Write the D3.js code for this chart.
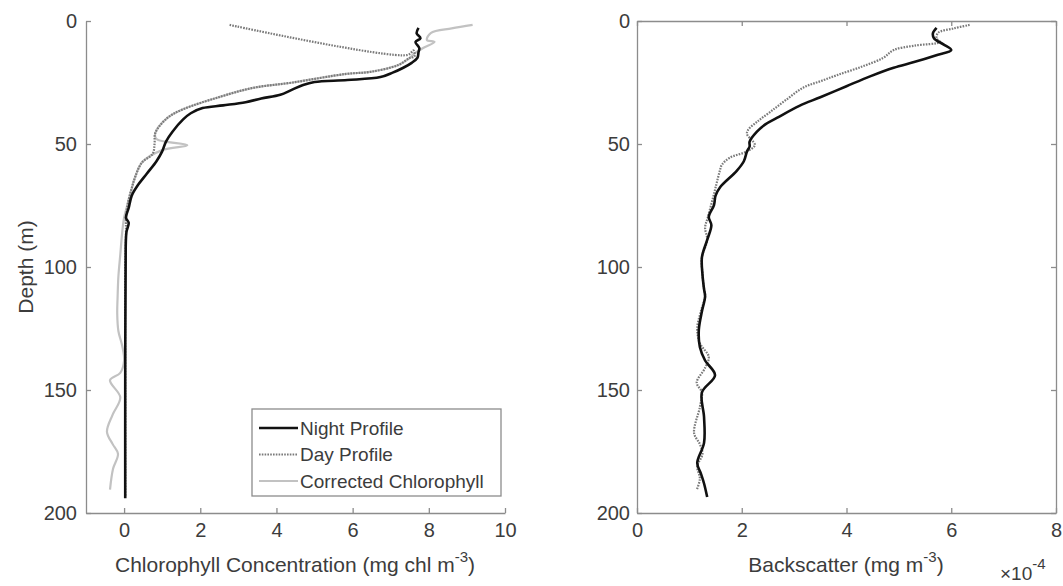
<!DOCTYPE html>
<html lang="en">
<head>
<meta charset="utf-8" />
<title>Chlorophyll and backscatter profiles</title>
<script src="https://d3js.org/d3.v7.min.js"></script>
<style>
    body { margin: 0; background: #fff; }
    text { font-family: "Liberation Sans", Arial, sans-serif; fill: #3c3c3c; }
    .axis path, .axis line { stroke: #8c8c8c; stroke-width: 1.3px; }
    .axis text { font-size: 20px; fill: #3c3c3c; }
</style>
</head>
<body>
<div id="chart"></div>
<script>
    var width = 1063, height = 586;

    // [value, depth] pairs
    var chlNight = [[7.73,2.8],[7.68,5],[7.78,7],[7.65,8.5],[7.75,11],[7.73,12.6],[7.7,15],[7.55,17],[7.33,19],[7.05,21],
        [6.73,22.8],[5.86,24],[5.0,24.8],[4.7,26],[4.4,28],[4.1,30],[3.6,31.5],[3.19,33],[2.6,34.3],[2.06,35.4],
        [1.75,37.5],[1.55,40],[1.27,45],[1.1,49],[1.0,53],[0.85,57],[0.6,62],[0.35,67],[0.2,71],[0.12,76],
        [0.05,80],[0.12,82],[0.06,86],[0.04,100],[0.03,150],[0.03,194]];
    var chlDay = [[2.77,1.6],[7.44,13.8],[7.6,12],[7.62,14.5],[7.5,15],[7.2,17.9],[6.46,20.7],[5.83,21.5],[4.43,25],
        [3.38,27.2],[2.48,31],[1.53,36],[1.13,39.5],[0.82,45.5],[0.8,50],[0.75,54],[0.47,57.5],[0.3,63],[0.2,68],
        [0.1,74],[0.05,80],[0.05,86],[0.03,100],[0.03,150],[0.03,193]];
    var chlCorrected = [[9.15,1.6],[8.6,3],[8.05,4.9],[7.95,7.7],[8.15,8.5],[7.85,11],[7.6,13.5],[7.5,15],[7.2,17.9],
        [6.46,20.7],[5.83,21.5],[4.43,25],[3.38,27.2],[2.48,31],[1.53,36],[1.13,39.5],[0.82,45.5],[0.85,48],
        [1.66,50.5],[1.0,52.5],[0.47,57.5],[0.3,63],[0.2,68],[0.1,74],[0.0,80],[-0.05,86],[-0.1,95],[-0.15,104],
        [-0.17,112],[-0.18,119],[-0.15,126],[-0.05,132],[0.0,138],[-0.1,143],[-0.37,146],[-0.1,153],[-0.3,160],
        [-0.45,167],[-0.3,172],[-0.16,176],[-0.29,182],[-0.37,190.5]];

    // backscatter, values in units of 1e-4
    var bbNight = [[5.72,2.8],[5.65,5],[5.67,7],[5.85,9.5],[6.0,11.8],[5.7,14],[5.29,16.7],[4.9,19],[4.45,22.5],
        [4.0,26.5],[3.5,31],[3.1,34.5],[2.67,39.4],[2.45,42],[2.29,45],[2.15,49],[2.15,51],[2.1,53],[2.04,57],
        [1.9,61],[1.59,67.5],[1.5,71],[1.47,74.8],[1.37,79.6],[1.42,83],[1.34,89],[1.24,96],[1.25,103],[1.28,109],
        [1.3,112],[1.24,118],[1.18,125.6],[1.2,132.5],[1.3,138],[1.49,144],[1.24,151],[1.28,161],[1.28,171.5],
        [1.15,179.7],[1.22,184],[1.28,188],[1.34,193.5]];
    var bbDay = [[6.35,1.6],[6.05,3],[5.75,4.8],[5.72,7],[5.78,8.5],[5.3,10],[4.9,11.8],[4.7,15],[4.3,18.5],[3.82,22],
        [3.5,24.5],[3.18,27],[2.85,32],[2.54,37],[2.29,41],[2.12,44.3],[2.1,46],[2.25,50.4],[2.1,53],[1.77,55.6],
        [1.62,58.5],[1.58,61],[1.52,66],[1.45,72],[1.35,80],[1.3,84],[1.34,89],[1.24,96],[1.25,103],[1.28,109],
        [1.3,112],[1.22,118],[1.15,125],[1.2,131],[1.37,136.5],[1.3,141],[1.14,147],[1.24,151],[1.2,157],
        [1.09,167.5],[1.2,172],[1.25,176],[1.15,181],[1.2,186],[1.14,190.7]];

    var depthTicks = [0, 50, 100, 150, 200];
    var chlTicks = [0, 2, 4, 6, 8, 10];
    var bbTicks = [0, 2, 4, 6, 8];
    var legendLabels = ["Night Profile", "Day Profile", "Corrected Chlorophyll"];

    var svg = d3.select("#chart").append("svg")
        .attr("width", width)
        .attr("height", height);

    var y = d3.scaleLinear().domain([0, 200]).range([21, 513]);
    var xChl = d3.scaleLinear().domain([-1, 10]).range([86, 505]);
    var xBb = d3.scaleLinear().domain([0, 8]).range([637, 1056]);

    var styles = {
        night: { stroke: "#111", width: 2.6, dash: null },
        day: { stroke: "#7a7a7a", width: 2.2, dash: "1.6,1.2" },
        corrected: { stroke: "#c2c2c2", width: 2.2, dash: null }
    };

    function drawLine(x, data, st) {
        var line = d3.line()
            .x(function (d) { return x(d[0]); })
            .y(function (d) { return y(d[1]); })
            .curve(d3.curveCatmullRom.alpha(0.5));
        svg.append("path")
            .datum(data)
            .attr("d", line)
            .attr("fill", "none")
            .attr("stroke", st.stroke)
            .attr("stroke-width", st.width)
            .attr("stroke-linejoin", "round")
            .attr("stroke-dasharray", st.dash);
    }

    // ---- left panel: chlorophyll (no box) ----
    svg.append("g").attr("class", "axis")
        .attr("transform", "translate(" + xChl.range()[0] + ",0)")
        .call(d3.axisLeft(y).tickValues(depthTicks).tickSizeInner(-5).tickSizeOuter(0).tickPadding(9));
    svg.append("g").attr("class", "axis")
        .attr("transform", "translate(0," + y.range()[1] + ")")
        .call(d3.axisBottom(xChl).tickValues(chlTicks).tickSizeInner(-5).tickSizeOuter(0).tickPadding(10));

    drawLine(xChl, chlCorrected, styles.corrected);
    drawLine(xChl, chlDay, styles.day);
    drawLine(xChl, chlNight, styles.night);

    // ---- right panel: backscatter (boxed) ----
    svg.append("g").attr("class", "axis")
        .attr("transform", "translate(" + xBb.range()[0] + ",0)")
        .call(d3.axisLeft(y).tickValues(depthTicks).tickSizeInner(-5).tickSizeOuter(0).tickPadding(7));
    svg.append("g").attr("class", "axis")
        .attr("transform", "translate(0," + y.range()[1] + ")")
        .call(d3.axisBottom(xBb).tickValues(bbTicks).tickSizeInner(-5).tickSizeOuter(0).tickPadding(10));
    svg.append("g").attr("class", "axis")
        .attr("transform", "translate(0," + y.range()[0] + ")")
        .call(d3.axisTop(xBb).tickValues(bbTicks).tickSizeInner(-5).tickSizeOuter(0).tickFormat(""));
    svg.append("g").attr("class", "axis")
        .attr("transform", "translate(" + xBb.range()[1] + ",0)")
        .call(d3.axisRight(y).tickValues(depthTicks).tickSizeInner(-5).tickSizeOuter(0).tickFormat(""));

    drawLine(xBb, bbDay, styles.day);
    drawLine(xBb, bbNight, styles.night);

    // ---- axis labels ----
    svg.append("text")
        .attr("transform", "translate(33,267) rotate(-90)")
        .attr("text-anchor", "middle")
        .style("font-size", "21px")
        .text("Depth (m)");

    var lab1 = svg.append("text")
        .attr("x", 295).attr("y", 572)
        .attr("text-anchor", "middle")
        .style("font-size", "21px");
    lab1.append("tspan").text("Chlorophyll Concentration (mg chl m");
    lab1.append("tspan").attr("dy", -10).style("font-size", "15px").text("-3");
    lab1.append("tspan").attr("dy", 10).text(")");

    var lab2 = svg.append("text")
        .attr("x", 846).attr("y", 572)
        .attr("text-anchor", "middle")
        .style("font-size", "21px");
    lab2.append("tspan").text("Backscatter (mg m");
    lab2.append("tspan").attr("dy", -10).style("font-size", "15px").text("-3");
    lab2.append("tspan").attr("dy", 10).text(")");

    var mult = svg.append("text")
        .attr("x", 1000).attr("y", 580)
        .style("font-size", "19px");
    mult.append("tspan").text("\u00d710");
    mult.append("tspan").attr("dy", -11).style("font-size", "15px").text("-4");

    // ---- legend ----
    var legend = svg.append("g");
    legend.append("rect")
        .attr("x", 252).attr("y", 409)
        .attr("width", 249).attr("height", 87)
        .attr("fill", "#fff")
        .attr("stroke", "#8c8c8c")
        .attr("stroke-width", 1.3);
    var legendStyles = [styles.night, styles.day, styles.corrected];
    legendLabels.forEach(function (name, i) {
        var ly = 428 + i * 26.5;
        legend.append("line")
            .attr("x1", 259).attr("x2", 298)
            .attr("y1", ly).attr("y2", ly)
            .attr("stroke", legendStyles[i].stroke)
            .attr("stroke-width", legendStyles[i].width)
            .attr("stroke-dasharray", legendStyles[i].dash);
        legend.append("text")
            .attr("x", 300).attr("y", ly)
            .attr("dy", "0.35em")
            .style("font-size", "19px")
            .text(name);
    });
</script>
</body>
</html>
